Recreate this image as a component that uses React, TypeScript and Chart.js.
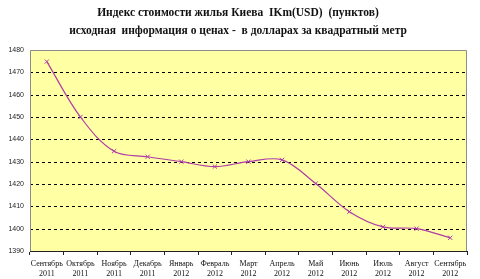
import React, { useEffect, useRef } from "react";
import { Chart, registerables } from "chart.js";

Chart.register(...registerables);

const titleLines = [
  "Индекс стоимости жилья Киева  IKm(USD)  (пунктов)",
  "исходная  информация о ценах -  в долларах за квадратный метр",
];
const months = [
  "Сентябрь", "Октябрь", "Ноябрь", "Декабрь", "Январь", "Февраль", "Март",
  "Апрель", "Май", "Июнь", "Июль", "Август", "Сентябрь",
];
const years = [
  "2011", "2011", "2011", "2011", "2012", "2012", "2012",
  "2012", "2012", "2012", "2012", "2012", "2012",
];
const indexValues = [
  1474.8, 1450.0, 1434.7, 1432.2, 1430.0, 1427.8, 1430.0,
  1430.8, 1420.2, 1407.6, 1400.8, 1400.0, 1395.9,
];
const yMin = 1390;
const yMax = 1480;
const yStep = 10;

const LINE_COLOR = "#B03CA8";

const bgPlugin = {
  id: "bgPlugin",
  beforeDraw(chart: any) {
    const { ctx, chartArea } = chart;
    ctx.save();
    ctx.fillStyle = "#ffffff";
    ctx.fillRect(0, 0, chart.width, chart.height);
    ctx.fillStyle = "#FFFFA3";
    ctx.fillRect(chartArea.left, chartArea.top, chartArea.right - chartArea.left, chartArea.bottom - chartArea.top);
    const y = chart.scales.y;
    ctx.strokeStyle = "#000000";
    ctx.lineWidth = 1;
    ctx.setLineDash([3, 3]);
    y.ticks.forEach((t: any) => {
      if (t.value === yMin || t.value === yMax) return;
      const py = Math.round(y.getPixelForValue(t.value)) + 0.5;
      ctx.beginPath();
      ctx.moveTo(chartArea.left, py);
      ctx.lineTo(chartArea.right, py);
      ctx.stroke();
    });
    ctx.setLineDash([]);
    ctx.restore();
  },
  afterDraw(chart: any) {
    const { ctx, chartArea } = chart;
    ctx.save();
    ctx.strokeStyle = "#8c8c8c";
    ctx.lineWidth = 1;
    ctx.beginPath();
    ctx.moveTo(chartArea.left + 0.5, chartArea.bottom);
    ctx.lineTo(chartArea.left + 0.5, chartArea.top + 0.5);
    ctx.lineTo(chartArea.right - 0.5, chartArea.top + 0.5);
    ctx.lineTo(chartArea.right - 0.5, chartArea.bottom);
    ctx.stroke();
    ctx.fillStyle = "#111111";
    ctx.textAlign = "center";
    ctx.textBaseline = "middle";
    ctx.font = "bold 11.5px 'Liberation Serif', serif";
    ctx.fillText(titleLines[0], 238, 13);
    ctx.fillText(titleLines[1], 238, 31);
    ctx.restore();
  },
};

export default function App() {
  const ref = useRef<HTMLCanvasElement | null>(null);
  useEffect(() => {
    document.body.style.margin = "0";
    const canvas = ref.current!;
    const chart = new Chart(canvas, {
      type: "line",
      data: {
        labels: months.map((m, i) => [m, years[i]]),
        datasets: [
          {
            data: indexValues,
            borderColor: LINE_COLOR,
            backgroundColor: LINE_COLOR,
            borderWidth: 1.2,
            tension: 0.35,
            pointStyle: "crossRot",
            pointRadius: 3,
            pointBorderWidth: 1,
            pointBorderColor: LINE_COLOR,
            fill: false,
          },
        ],
      },
      plugins: [bgPlugin],
      options: {
        animation: false,
        responsive: false,
        devicePixelRatio: 1,
        layout: { padding: { left: 0, right: 13, top: 50, bottom: 0 } },
        plugins: {
          legend: { display: false },
          title: { display: false },
          tooltip: { enabled: false },
        },
        scales: {
          x: {
            offset: true,
            afterFit(scale: any) {
              scale.height = 28;
            },
            grid: {
              offset: true,
              drawOnChartArea: false,
              drawTicks: true,
              tickLength: 4,
              color: "#222222",
            },
            border: { display: true, color: "#222222", width: 1 },
            ticks: {
              color: "#111111",
              font: { family: "'Liberation Serif', serif", size: 8, lineHeight: 1.25 },
              padding: 4,
              maxRotation: 0,
              autoSkip: false,
            },
          },
          y: {
            min: yMin,
            max: yMax,
            afterFit(scale: any) {
              scale.width = 30;
            },
            grid: { display: false, drawTicks: false },
            border: { display: false },
            ticks: {
              stepSize: yStep,
              color: "#222222",
              font: { family: "'Liberation Sans', Arial, sans-serif", size: 7 },
              padding: 6,
              callback: (v: any) => String(v),
            },
          },
        },
      },
    });
    return () => chart.destroy();
  }, []);
  return (
    <div style={{ position: "absolute", left: 0, top: 0, width: 480, height: 279 }}>
      <canvas ref={ref} width={480} height={279} style={{ width: 480, height: 279 }} />
    </div>
  );
}
